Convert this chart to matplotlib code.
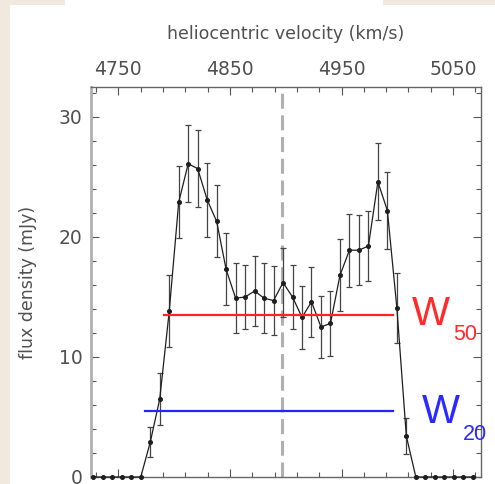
import numpy as np
import matplotlib
matplotlib.use('Agg')
import matplotlib.pyplot as plt
from matplotlib.patches import Rectangle

# channel velocities (km/s), flux (mJy), 1-sigma errors
velocity = [4727.6, 4736.1, 4744.6, 4753.1, 4761.6, 4770.1, 4778.6, 4787.1,
            4795.6, 4804.1, 4812.6, 4821.1, 4829.6, 4838.1, 4846.6, 4855.1,
            4863.6, 4872.1, 4880.6, 4889.1, 4897.6, 4906.1, 4914.6, 4923.1,
            4931.6, 4940.1, 4948.6, 4957.1, 4965.6, 4974.1, 4982.6, 4991.1,
            4999.6, 5008.1, 5016.6, 5025.1, 5033.6, 5042.1, 5050.6, 5059.1,
            5067.6]
flux = [0, 0, 0, 0, 0, 0, 2.9, 6.5,
        13.8, 22.9, 26.1, 25.7, 23.1, 21.3, 17.3, 14.9,
        15.0, 15.5, 14.9, 14.7, 16.2, 15.0, 13.3, 14.6,
        12.5, 12.8, 16.8, 18.9, 18.9, 19.25, 24.6, 22.2,
        14.1, 3.4, 0, 0, 0, 0, 0, 0,
        0]
err = [0, 0, 0, 0, 0, 0, 1.25, 2.2,
       3.0, 3.0, 3.2, 3.2, 3.1, 3.0, 3.0, 2.9,
       2.7, 2.9, 2.9, 2.9, 2.9, 2.7, 2.6, 2.9,
       2.6, 2.7, 3.0, 3.05, 2.9, 2.9, 3.2, 3.2,
       2.9, 1.5, 0, 0, 0, 0, 0, 0,
       0]

v_sys = 4897
w50_level = 13.5
w50_range = [4790.5, 4996]
w20_level = 5.5
w20_range = [4773.5, 4996]

W = 495
H = 484
fig = plt.figure(figsize=(W/100, H/100), dpi=100)
fig.patch.set_facecolor('#f1e9dd')
# white card over the beige background
fig.add_artist(Rectangle((10/W, 0), 1-10/W, 1-5/H, transform=fig.transFigure,
                         facecolor='white', edgecolor='none', zorder=0))
fig.add_artist(Rectangle((65/W, 1-5/H), (383-65)/W, 5/H, transform=fig.transFigure,
                         facecolor='white', edgecolor='none', zorder=0))

ax = fig.add_axes([91/W, 1-477/H, (481-91)/W, (477-87)/H])
ax.set_facecolor('white')

ax.axvline(v_sys, color='#b0b0b0', lw=2.2, dashes=(4.9, 2.2), zorder=1)

ax.errorbar(velocity, flux, yerr=err, fmt='none', ecolor='#444444',
            elinewidth=0.9, capsize=2.5, capthick=0.9, zorder=2)
ax.plot(velocity, flux, color='#1e1e1e', lw=0.9, marker='o', ms=2.6,
        zorder=3, clip_on=False)

ax.plot(w50_range, [w50_level, w50_level], color='#ff2424', lw=1.6, zorder=4)
ax.plot(w20_range, [w20_level, w20_level], color='#2424ff', lw=1.6, zorder=4)

ax.set_xlim(4725.5, 5075)
ax.set_ylim(0, 32.5)

ax.set_xticks([4750, 4850, 4950, 5050])
ax.set_xticks(np.arange(4730, 5075, 20), minor=True)
ax.set_yticks([0, 10, 20, 30])
ax.set_yticks(np.arange(0, 33, 2), minor=True)

ax.tick_params(which='both', direction='in', top=True, bottom=True,
               left=True, right=True, labeltop=True, labelbottom=False,
               color='#555555', width=0.8)
ax.tick_params(which='major', length=6, labelsize=13.5, labelcolor='#505050', pad=6)
ax.tick_params(which='minor', length=3.5)

for name, sp in ax.spines.items():
    sp.set_color('#666666')
    sp.set_linewidth(1.0)
ax.spines['left'].set_color('#b0b0b0')
ax.spines['left'].set_linewidth(2.0)

ax.xaxis.set_label_position('top')
ax.set_xlabel('heliocentric velocity (km/s)', fontsize=12.5, color='#505050', labelpad=15)
ax.set_ylabel('flux density (mJy)', fontsize=12.5, color='#505050', labelpad=16)

fig.text(412/W, 1-325/H, 'W', color='#ff2a2a', fontsize=29,
         family='Liberation Sans', va='baseline', ha='left')
fig.text(453/W, 1-340/H, '50', color='#ff2a2a', fontsize=15.5,
         family='Liberation Sans', va='baseline', ha='left')
fig.text(422/W, 1-423/H, 'W', color='#2a2aff', fontsize=29,
         family='Liberation Sans', va='baseline', ha='left')
fig.text(463/W, 1-440/H, '20', color='#2a2aff', fontsize=15.5,
         family='Liberation Sans', va='baseline', ha='left')

plt.savefig('out.png', dpi=100, facecolor=fig.get_facecolor())
